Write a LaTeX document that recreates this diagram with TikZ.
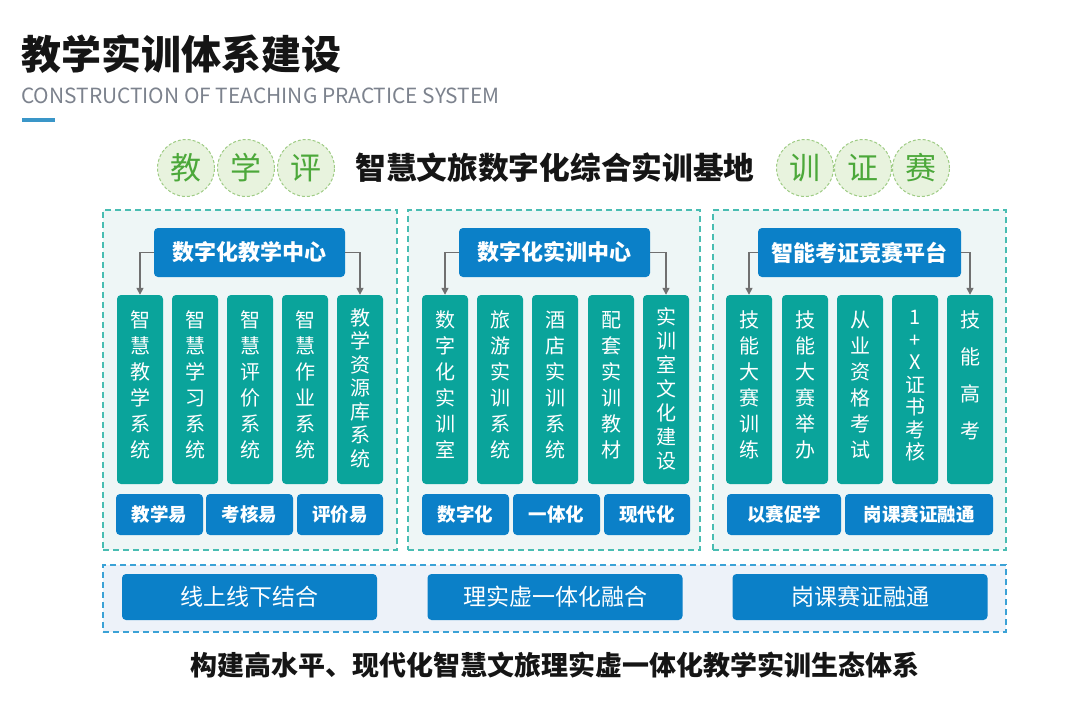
\documentclass[tikz,border=0pt]{standalone}
\usepackage{fontspec}
\setmainfont{Noto Sans CJK SC}
\usetikzlibrary{arrows.meta}
\definecolor{titleblack}{HTML}{151515}
\definecolor{subgray}{HTML}{7C828D}
\definecolor{barblue}{HTML}{3A96C8}
\definecolor{circfill}{HTML}{E8F3DE}
\definecolor{circline}{HTML}{9FCC85}
\definecolor{circtext}{HTML}{4CA83A}
\definecolor{headblue}{HTML}{0B80C8}
\definecolor{tealc}{HTML}{0AA49B}
\definecolor{panelfill}{HTML}{EEF6F6}
\definecolor{panelline}{HTML}{48BDB2}
\definecolor{botfill}{HTML}{EDF2F9}
\definecolor{botline}{HTML}{3BA2D6}
\definecolor{arrgray}{HTML}{707070}
\tikzset{
  panel/.style={draw=panelline, fill=panelfill, dash pattern=on 6pt off 4pt, line width=1.2pt, inner sep=0pt},
  botpanel/.style={draw=botline, fill=botfill, dash pattern=on 6pt off 4pt, line width=1.2pt, inner sep=0pt},
  header/.style={fill=headblue, rounded corners=4pt, text=white, inner sep=0pt, font=\fontsize{22}{24}\selectfont\bfseries},
  colbox/.style={fill=tealc, rounded corners=4pt, inner sep=0pt, minimum width=46pt, minimum height=189pt},
  coltext/.style={text=white, align=center, inner sep=0pt, font=\fontsize{20}{26}\selectfont},
  smallbox/.style={fill=headblue, rounded corners=4pt, text=white, inner sep=0pt, minimum height=41pt, font=\fontsize{18.5}{20}\selectfont\bfseries},
  bigbox/.style={fill=headblue, rounded corners=4pt, text=white, inner sep=0pt, minimum height=46pt, minimum width=255pt, font=\fontsize{23}{25}\selectfont},
  circ/.style={circle, draw=circline, fill=circfill, dash pattern=on 3pt off 2pt, line width=1pt, minimum size=57pt, inner sep=0pt, text=circtext, font=\fontsize{31}{33}\selectfont},
  arr/.style={draw=arrgray, line width=1.5pt, -{Triangle[length=7pt,width=7pt]}},
}
\begin{document}
\begin{tikzpicture}[x=1pt,y=-1pt]
\useasboundingbox (0,0) rectangle (1080,705);
% title
\node[anchor=west, inner sep=0pt, text=titleblack, font=\fontsize{40}{42}\selectfont\bfseries] (title) at (21,54) {教学实训体系建设};
\node[anchor=west, inner sep=0pt, text=subgray, font=\fontsize{20.9}{22}\selectfont] (sub) at (21,96) {CONSTRUCTION OF TEACHING PRACTICE SYSTEM};
\fill[barblue] (22,118) rectangle (55,122);
% circles row
\node[circ] (k1) at (186,168) {教};
\node[circ] (k2) at (246,168) {学};
\node[circ] (k3) at (306,168) {评};
\node[inner sep=0pt, text=titleblack, font=\fontsize{30.7}{32}\selectfont\bfseries] (base) at (555,168) {智慧文旅数字化综合实训基地};
\node[circ] (k4) at (805,168) {训};
\node[circ] (k5) at (863,168) {证};
\node[circ] (k6) at (921,168) {赛};
% panels
\node[panel, minimum width=294pt, minimum height=340pt] (p1) at (250,380) {};
\node[panel, minimum width=292pt, minimum height=340pt] (p2) at (554,380) {};
\node[panel, minimum width=293pt, minimum height=340pt] (p3) at (859.5,380) {};
% headers
\node[header, minimum width=191pt, minimum height=49pt] (h1) at (249.5,252.5) {数字化教学中心};
\node[header, minimum width=191pt, minimum height=49pt] (h2) at (554.5,252.5) {数字化实训中心};
\node[header, minimum width=203pt, minimum height=49pt] (h3) at (859.5,252.5) {智能考证竞赛平台};
% panel 1 columns
\node[colbox] (c11) at (140,389.5) {};
\node[colbox] (c12) at (195,389.5) {};
\node[colbox] (c13) at (250,389.5) {};
\node[colbox] (c14) at (305,389.5) {};
\node[colbox] (c15) at (360,389.5) {};
\node[coltext] (t11) at (140,385) {智\\慧\\教\\学\\系\\统};
\node[coltext] (t12) at (195,385) {智\\慧\\学\\习\\系\\统};
\node[coltext] (t13) at (250,385) {智\\慧\\评\\价\\系\\统};
\node[coltext] (t14) at (305,385) {智\\慧\\作\\业\\系\\统};
\node[coltext, font=\fontsize{20}{23.5}\selectfont] (t15) at (360,388) {教\\学\\资\\源\\库\\系\\统};
% panel 2 columns
\node[colbox] (c21) at (445,389.5) {};
\node[colbox] (c22) at (500,389.5) {};
\node[colbox] (c23) at (555,389.5) {};
\node[colbox] (c24) at (611,389.5) {};
\node[colbox] (c25) at (666,389.5) {};
\node[coltext] (t21) at (445,385) {数\\字\\化\\实\\训\\室};
\node[coltext] (t22) at (500,385) {旅\\游\\实\\训\\系\\统};
\node[coltext] (t23) at (555,385) {酒\\店\\实\\训\\系\\统};
\node[coltext] (t24) at (611,385) {配\\套\\实\\训\\教\\材};
\node[coltext, font=\fontsize{20}{24}\selectfont] (t25) at (666,389) {实\\训\\室\\文\\化\\建\\设};
% panel 3 columns
\node[colbox] (c31) at (749,389.5) {};
\node[colbox] (c32) at (805,389.5) {};
\node[colbox] (c33) at (860,389.5) {};
\node[colbox] (c34) at (915,389.5) {};
\node[colbox] (c35) at (970,389.5) {};
\node[coltext] (t31) at (749,385) {技\\能\\大\\赛\\训\\练};
\node[coltext] (t32) at (805,385) {技\\能\\大\\赛\\举\\办};
\node[coltext] (t33) at (860,385) {从\\业\\资\\格\\考\\试};
\node[coltext, font=\fontsize{20}{22.5}\selectfont] (t34) at (915,386) {1\\+\\X\\证\\书\\考\\核};
\node[coltext, font=\fontsize{20}{37}\selectfont] (t35) at (970,375) {技\\能\\高\\考};
% arrows
\draw[arr] (h1.west) -| (c11.north);
\draw[arr] (h1.east) -| (c15.north);
\draw[arr] (h2.west) -| (c21.north);
\draw[arr] (h2.east) -| (c25.north);
\draw[arr] (h3.west) -| (c31.north);
\draw[arr] (h3.east) -| (c35.north);
% small boxes
\node[smallbox, minimum width=87pt] (s11) at (159.5,514.5) {教学易};
\node[smallbox, minimum width=87pt] (s12) at (249.5,514.5) {考核易};
\node[smallbox, minimum width=86pt] (s13) at (340,514.5) {评价易};
\node[smallbox, minimum width=87pt] (s21) at (465.5,514.5) {数字化};
\node[smallbox, minimum width=87pt] (s22) at (556.5,514.5) {一体化};
\node[smallbox, minimum width=86pt] (s23) at (647,514.5) {现代化};
\node[smallbox, minimum width=114pt] (s31) at (784,514.5) {以赛促学};
\node[smallbox, minimum width=148pt] (s32) at (919,514.5) {岗课赛证融通};
% bottom panel
\node[botpanel, minimum width=903pt, minimum height=67pt] (bp) at (554.5,598.5) {};
\node[bigbox] (b1) at (249.5,597) {线上线下结合};
\node[bigbox] (b2) at (555,597) {理实虚一体化融合};
\node[bigbox] (b3) at (860,597) {岗课赛证融通};
\node[inner sep=0pt, text=titleblack, font=\fontsize{27}{29}\selectfont\bfseries] (foot) at (555,665) {构建高水平、现代化智慧文旅理实虚一体化教学实训生态体系};
\end{tikzpicture}
\end{document}
